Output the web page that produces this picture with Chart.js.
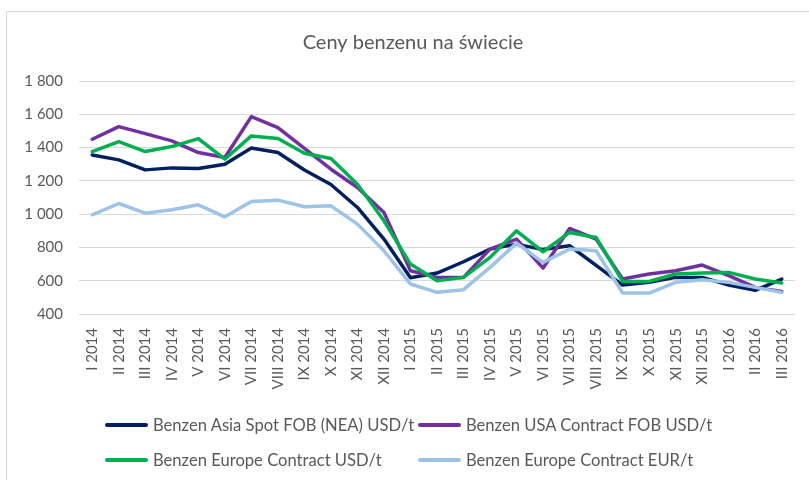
<!DOCTYPE html>
<html>
<head>
<meta charset="utf-8">
<script src="https://cdn.jsdelivr.net/npm/chart.js@4"></script>
<style>
    html, body { margin: 0; padding: 0; background: #fff; overflow: hidden; }
    #wrap { position: relative; width: 809px; height: 480px; }
    #cadre { position: absolute; left: 6px; top: 11px; width: 900px; height: 600px; border: 1px solid #d9d9d9; }
    #legende { position: absolute; left: 0; top: 0; font-family: Lato, sans-serif; font-size: 16.6px; color: #595959; }
    .item { position: absolute; white-space: nowrap; line-height: 20px; }
    .trait { position: absolute; width: 43px; height: 4px; border-radius: 2px; }
</style>
</head>
<body>
<div id="wrap">
    <div id="cadre"></div>
    <canvas id="myChart" width="809" height="480"></canvas>
    <div id="legende"></div>
</div>
<script>
// Mois (chiffres romains) et années
const mois = ["I 2014", "II 2014", "III 2014", "IV 2014", "V 2014", "VI 2014", "VII 2014", "VIII 2014", "IX 2014", "X 2014", "XI 2014", "XII 2014",
    "I 2015", "II 2015", "III 2015", "IV 2015", "V 2015", "VI 2015", "VII 2015", "VIII 2015", "IX 2015", "X 2015", "XI 2015", "XII 2015",
    "I 2016", "II 2016", "III 2016"];

// Séries
const asiaSpot = [1355, 1326, 1266, 1278, 1274, 1300, 1398, 1370, 1265, 1178, 1040, 850, 618, 646, 714, 790, 820, 787, 810, 692, 574, 590, 620, 620, 574, 542, 610];
const usaContract = [1450, 1526, 1484, 1440, 1370, 1340, 1586, 1520, 1395, 1270, 1160, 1010, 660, 620, 620, 790, 850, 676, 914, 850, 610, 640, 660, 694, 630, 560, 536];
const europeUsd = [1376, 1436, 1376, 1406, 1454, 1330, 1470, 1454, 1366, 1334, 1180, 960, 700, 600, 620, 740, 900, 774, 890, 860, 596, 596, 640, 646, 650, 610, 586];
const europeEur = [996, 1064, 1006, 1026, 1056, 984, 1076, 1084, 1044, 1050, 940, 780, 580, 530, 546, 680, 826, 710, 790, 780, 526, 526, 590, 606, 590, 560, 530];

const noms = ["Benzen Asia Spot FOB (NEA) USD/t", "Benzen USA Contract FOB USD/t", "Benzen Europe Contract USD/t", "Benzen Europe Contract EUR/t"];
const couleurs = ["#002060", "#7030a0", "#00b050", "#9dc3e6"];
const series = [asiaSpot, usaContract, europeUsd, europeEur];

const gris = "#595959";

// Format "1 800"
function formatTick(v) {
    if (v >= 1000) {
        return Math.floor(v / 1000) + " " + String(v % 1000).padStart(3, "0");
    }
    return String(v);
}

// Décaler le titre pour le centrer comme dans Excel
const titreCentre = {
    id: "titreCentre",
    afterLayout(chart) {
        if (chart.titleBlock) {
            chart.titleBlock.left = 31;
        }
    }
};

new Chart(document.getElementById("myChart"), {
    type: "line",
    data: {
        labels: mois,
        datasets: series.map((s, i) => ({
            label: noms[i],
            data: s,
            borderColor: couleurs[i],
            backgroundColor: couleurs[i],
            borderWidth: 3.5,
            pointRadius: 0,
            tension: 0,
            fill: false,
            borderJoinStyle: "round",
            borderCapStyle: "round",
            order: 4 - i
        }))
    },
    options: {
        responsive: false,
        animation: false,
        layout: { padding: { top: 12, right: 14, bottom: 0, left: 0 } },
        plugins: {
            legend: { display: false },
            tooltip: { enabled: false },
            title: {
                display: true,
                text: "Ceny benzenu na świecie",
                color: gris,
                font: { family: "Lato", size: 20, weight: "normal" },
                padding: { top: 19, bottom: 26 }
            }
        },
        scales: {
            x: {
                offset: true,
                grid: { display: false },
                border: { display: false },
                ticks: {
                    color: gris,
                    font: { family: "Lato", size: 15 },
                    minRotation: 90,
                    maxRotation: 90,
                    autoSkip: false,
                    padding: 6
                },
                afterFit: function (scale) { scale.height = 166; }
            },
            y: {
                min: 400,
                max: 1800,
                grid: { color: "#d9d9d9", lineWidth: 1, drawTicks: false },
                border: { display: false },
                ticks: {
                    stepSize: 200,
                    color: gris,
                    font: { family: "Lato", size: 15 },
                    padding: 16,
                    callback: formatTick
                },
                afterFit: function (scale) { scale.width = 79; }
            }
        }
    },
    plugins: [titreCentre]
});

// Légende en deux colonnes comme dans Excel
const legende = document.getElementById("legende");
const colX = [105, 418];
const rangY = [415, 450];
noms.forEach((nom, i) => {
    const x = colX[i % 2];
    const y = rangY[Math.floor(i / 2)];
    const trait = document.createElement("div");
    trait.className = "trait";
    trait.style.left = x + "px";
    trait.style.top = (y + 8) + "px";
    trait.style.background = couleurs[i];
    const texte = document.createElement("div");
    texte.className = "item";
    texte.style.left = (x + 48) + "px";
    texte.style.top = y + "px";
    texte.textContent = nom;
    legende.appendChild(trait);
    legende.appendChild(texte);
});
</script>
</body>
</html>
